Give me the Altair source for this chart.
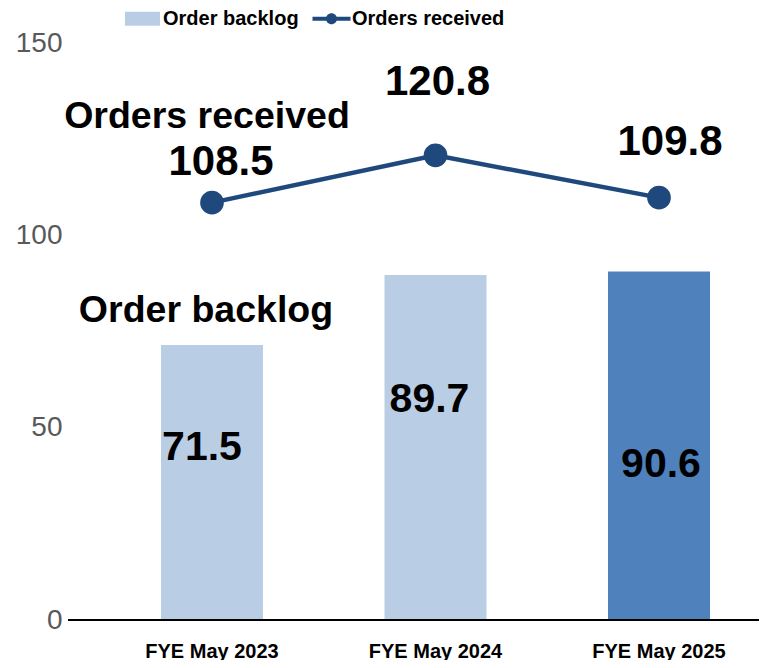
import altair as alt
import pandas as pd

# ---- data ----
categories = ["FYE May 2023", "FYE May 2024", "FYE May 2025"]
order_backlog = [71.5, 89.7, 90.6]
orders_received = [108.5, 120.8, 109.8]
series_names = ["Order backlog", "Orders received"]

df = pd.DataFrame({
    "category": categories,
    "backlog": order_backlog,
    "received": orders_received,
})

# ---- style ----
W, H = 647, 577
LIGHT, MID, NAVY = "#B9CDE5", "#4F81BD", "#1F497D"
FONT = "Liberation Sans, Arial, sans-serif"

RECT_PATH = "M-1,-0.4H1V0.4H-1Z"
LINE_PATH = ("M-1.086,-0.114H1.086V0.114H-1.086Z "
             "M-0.314,0A0.314,0.314 0 1,1 0.314,0A0.314,0.314 0 1,1 -0.314,0Z")

x = alt.X(
    "category:N", sort=categories, title=None,
    scale=alt.Scale(paddingInner=0.5436, paddingOuter=0.2192),
    axis=alt.Axis(domain=False, ticks=False, labelAngle=0, labelFont=FONT,
                  labelFontSize=20, labelFontWeight="bold", labelColor="black",
                  labelPadding=21),
)
y_scale = alt.Scale(domain=[0, 150], nice=False, zero=True)
y_axis = alt.Axis(values=[0, 50, 100, 150], domain=False, ticks=False, grid=False,
                  labelFont=FONT, labelFontSize=28, labelColor="#595959",
                  labelPadding=50, title=None)

legend = alt.Legend(
    title=None, orient="none", legendX=13, legendY=-42,
    direction="horizontal", columns=2, labelFont=FONT, labelFontSize=20,
    labelFontWeight="bold", labelColor="black", labelOffset=3, columnPadding=13,
    labelLimit=400, symbolSize=1225, symbolStrokeWidth=0, symbolOpacity=1, padding=0,
)

base = alt.Chart(df)

bars = base.mark_bar().encode(
    x=x,
    y=alt.Y("backlog:Q", scale=y_scale, axis=y_axis, title=None),
    color=alt.condition(alt.datum.category == categories[-1], alt.value(MID), alt.value(LIGHT)),
)

baseline = alt.Chart(pd.DataFrame({"v": [0]})).mark_rule(color="black", strokeWidth=2).encode(
    y=alt.Y("v:Q", scale=y_scale, axis=y_axis, title=None),
    x=alt.value(-44), x2=alt.value(W),
)

line = base.mark_line(color=NAVY, strokeWidth=4.5).encode(
    x=x, y=alt.Y("received:Q", scale=y_scale, axis=y_axis, title=None))
points = base.mark_point(filled=True, size=560, color=NAVY, opacity=1).encode(
    x=x, y=alt.Y("received:Q", scale=y_scale, axis=y_axis, title=None))

# legend-only layer (no visible marks)
legend_layer = alt.Chart(pd.DataFrame({"series": series_names})).transform_filter(
    "false").mark_point(filled=True, size=1225, opacity=1, strokeWidth=0).encode(
    color=alt.Color("series:N", scale=alt.Scale(domain=series_names, range=[LIGHT, NAVY]),
                    legend=legend),
    shape=alt.Shape("series:N", scale=alt.Scale(domain=series_names, range=[RECT_PATH, LINE_PATH]),
                    legend=legend),
)

layers = [bars, baseline, line, points, legend_layer]

line_label_offsets = [(9, -41), (2, -73), (11, -56)]
bar_label_offsets = [(-10, 103), (-6, 125), (2, 194)]
for cat, (ldx, ldy), (bdx, bdy) in zip(categories, line_label_offsets, bar_label_offsets):
    sub = base.transform_filter(alt.datum.category == cat)
    layers.append(sub.mark_text(font=FONT, fontSize=42, fontWeight="bold", color="black",
                                baseline="middle", dx=ldx, dy=ldy).encode(
        x=x, y=alt.Y("received:Q", scale=y_scale, axis=y_axis, title=None),
        text=alt.Text("received:Q", format=".1f")))
    layers.append(sub.mark_text(font=FONT, fontSize=41, fontWeight="bold", color="black",
                                baseline="middle", dx=bdx, dy=bdy).encode(
        x=x, y=alt.Y("backlog:Q", scale=y_scale, axis=y_axis, title=None),
        text=alt.Text("backlog:Q", format=".1f")))

first = base.transform_filter(alt.datum.category == categories[0])
layers.append(first.mark_text(text=series_names[1], font=FONT, fontSize=37.5, fontWeight="bold",
                              color="black", baseline="middle", dx=-5, dy=-86).encode(
    x=x, y=alt.Y("received:Q", scale=y_scale, axis=y_axis, title=None)))
layers.append(first.mark_text(text=series_names[0], font=FONT, fontSize=37.5, fontWeight="bold",
                              color="black", baseline="middle", dx=-6, dy=-34).encode(
    x=x, y=alt.Y("backlog:Q", scale=y_scale, axis=y_axis, title=None)))

chart = alt.layer(*layers).properties(
    width=W, height=H,
    padding={"left": 104, "top": 35, "right": 0, "bottom": 40},
    autosize=alt.AutoSizeParams(type="none"),
).configure_view(stroke=None)

chart.save("out.html", embed_options={"renderer": "svg", "actions": False})
